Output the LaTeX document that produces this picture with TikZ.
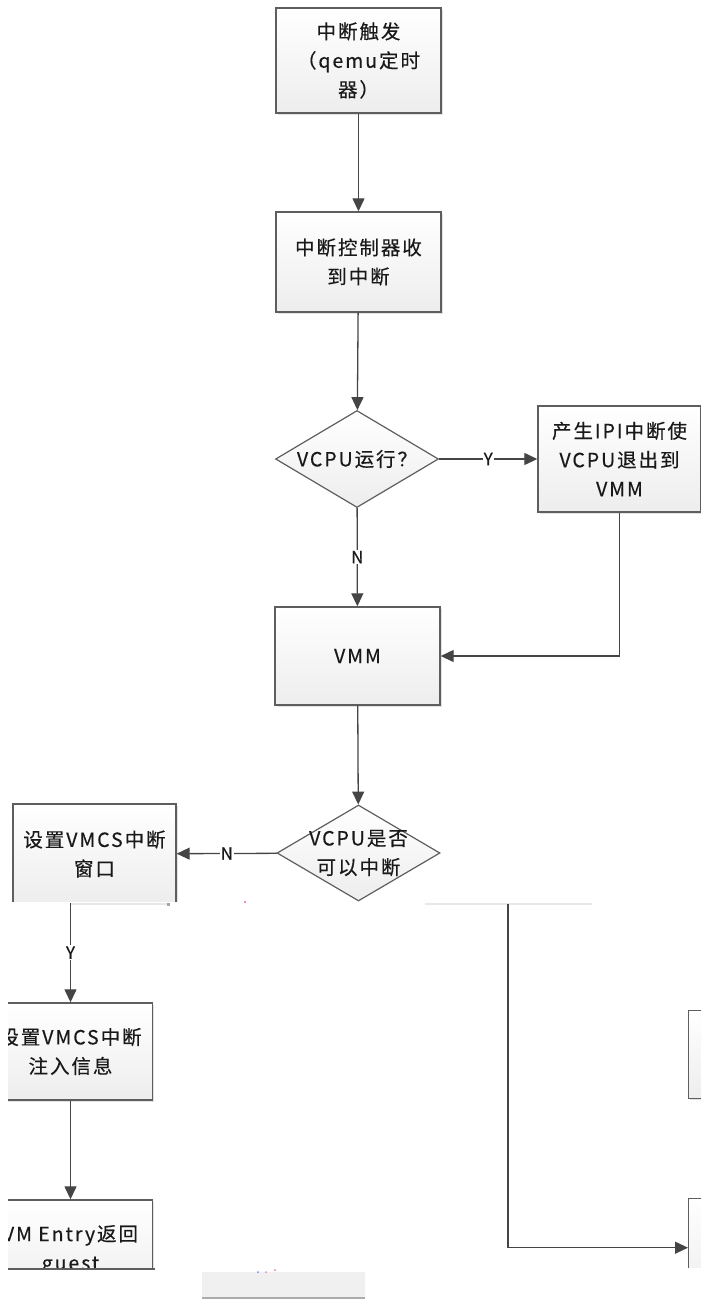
\documentclass[tikz,border=0pt]{standalone}
\usepackage{fontspec}
\setmainfont[LetterSpace=10,FakeBold=0.35]{Noto Sans CJK SC}
\usetikzlibrary{arrows.meta,shapes.geometric,shadows}
\definecolor{edge}{HTML}{5E5E5E}
\definecolor{arr}{HTML}{454545}
\begin{document}
\begin{tikzpicture}[x=1pt,y=-1pt,
  box/.style={draw=edge, line width=1.4pt, top color=white, bottom color=gray!14,
    drop shadow={shadow xshift=1.5pt,shadow yshift=-1.5pt,fill=gray!45}, inner sep=0pt},
  dia/.style={diamond, draw=edge, line width=1.2pt, top color=white, bottom color=gray!14, inner sep=0pt},
  txt/.style={align=center, font=\fontsize{19.5}{29}\selectfont, text=black!90},
  arrow/.style={draw=arr, line width=1.3pt, -{Triangle[length=13pt,width=12pt]}},
  lab/.style={fill=white, inner sep=1pt, text=black!90, font=\fontsize{17}{17}\selectfont}]
\useasboundingbox (0,0) rectangle (701,1302);
\clip (0,0) rectangle (701,1302);
% ---------- upper part ----------
\begin{scope}
\clip (0,0) rectangle (701,901);
\node[box, txt, minimum width=165pt, minimum height=105pt] (n1) at (358.5,60.5) {中断触发\\（qemu定时\\器）};
\node[box, txt, minimum width=165pt, minimum height=100pt] (n2) at (358.5,262) {中断控制器收\\到中断};
\node[dia, minimum width=163pt, minimum height=97pt] (d1) at (357,459) {};
\node[txt] (d1t) at (d1) {VCPU运行？};
\node[box, txt, minimum width=163pt, minimum height=106pt] (ipi) at (619.5,459) {产生IPI中断使\\VCPU退出到\\VMM};
\node[box, txt, minimum width=165pt, minimum height=98pt] (vmm) at (357.5,656) {VMM};
\node[dia, minimum width=163pt, minimum height=96pt] (d2) at (358.5,853) {};
\node[txt] (d2t) at (d2) {VCPU是否\\可以中断};
\node[box, txt, minimum width=163pt, minimum height=100pt] (lb) at (94.5,854) {设置VMCS中断\\窗口};
\draw[arrow] (n1) -- (n2);
\draw[arrow] (n2) -- (d1);
\draw[arrow] (d1) -- node[lab] (ly) {Y} (ipi);
\draw[arrow] (d1) -- node[lab] (ln1) {N} (vmm);
\draw[arrow] (ipi.south) |- (vmm.east);
\draw[arrow] (vmm) -- (d2);
\draw[arrow] (d2) -- node[lab] (ln2) {N} (lb);
\end{scope}
% ---------- fragments at the cut ----------
\draw[gray!18, line width=1.2pt] (70,904) -- (168,904);
\fill[gray!70] (166.5,902.5) rectangle (169.5,905.5);
\draw[gray!18, line width=1.2pt] (425,904) -- (592,904);
\fill[magenta!45] (244,901) rectangle (246,903);
\coordinate (s) at (70.5,903);
\coordinate (j) at (508,904);
% ---------- lower left ----------
\begin{scope}
\clip (8,0) rectangle (701,1269.5);
\node[box, txt, minimum width=164pt, minimum height=97pt] (b3) at (70.5,1051.5) {设置VMCS中断\\注入信息};
\node[box, txt, minimum width=164pt, minimum height=100pt] (b4) at (70.5,1250) {VM Entry返回\\guest};
\draw[arrow] (s) -- node[lab] (ly2) {Y} (b3);
\draw[arrow] (b3) -- (b4);
\end{scope}
\draw[edge, line width=1.6pt] (8,1269) -- (155,1269);
% ---------- lower right ----------
\node[box, minimum width=163pt, minimum height=88pt, anchor=north west] (r1) at (688,1010) {};
\begin{scope}
\clip (0,0) rectangle (701,1267.5);
\node[box, minimum width=163pt, minimum height=98pt, anchor=north west] (r2) at (688,1198) {};
\end{scope}
\draw[arrow] (j) |- (r2.west);
% ---------- bottom fragment ----------
\fill[gray!12] (202,1272) rectangle (365,1297);
\draw[gray!65, line width=2pt] (202,1297.5) -- (365,1297.5);
\fill[blue!50] (258,1272) circle (1pt);
\fill[magenta!50] (266,1272) circle (1pt);
\fill[magenta!60] (275,1270) circle (1pt);
\end{tikzpicture}
\end{document}
